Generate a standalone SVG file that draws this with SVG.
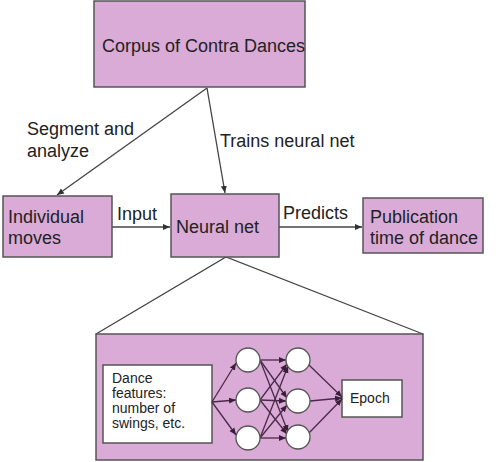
<svg xmlns="http://www.w3.org/2000/svg" width="500" height="462" viewBox="0 0 500 462">
<style>
.box{fill:#d9abd6;stroke:#555;stroke-width:1.5}
.wbox{fill:#fff;stroke:#555;stroke-width:1.5}
.t{font-family:"Liberation Sans",Arial,sans-serif;font-size:18px;fill:#222}
.s{font-family:"Liberation Sans",Arial,sans-serif;font-size:14px;fill:#222}
.e{stroke:#444;stroke-width:1.3;fill:none}
.a{marker-end:url(#ah)}
.n{stroke:#4a2a48;stroke-width:1.3;fill:none;marker-end:url(#ah2)}
.c{fill:#fff;stroke:#555;stroke-width:1.3}
</style>
<defs>
<marker id="ah" markerWidth="8" markerHeight="8" refX="7" refY="4" orient="auto" markerUnits="userSpaceOnUse"><path d="M0,1 L7,4 L0,7 Z" fill="#333"/></marker>
<marker id="ah2" markerWidth="8" markerHeight="8" refX="7" refY="4" orient="auto" markerUnits="userSpaceOnUse"><path d="M0,1 L7,4 L0,7 Z" fill="#3a1f38"/></marker>
</defs>
<g id="connectors">
<line class="e a" x1="207" y1="88" x2="57" y2="195"/>
<line class="e a" x1="207" y1="88" x2="225" y2="193"/>
<line class="e a" x1="112" y1="227" x2="170" y2="227"/>
<line class="e a" x1="279" y1="227" x2="362" y2="227"/>
<polyline class="e" points="96,334 226,257 423,334"/>
<text class="t" x="27" y="135">Segment and</text>
<text class="t" x="27" y="157">analyze</text>
<text class="t" x="220" y="147">Trains neural net</text>
<text class="t" x="117" y="220">Input</text>
<text class="t" x="283" y="219">Predicts</text>
</g>
<g id="corpus"><rect class="box" x="94" y="1" width="211" height="86"/><text class="t" x="102" y="52">Corpus of Contra Dances</text></g>
<g id="moves"><rect class="box" x="3" y="196" width="109" height="61"/><text class="t" x="8" y="223">Individual</text><text class="t" x="8" y="244">moves</text></g>
<g id="neuralnet"><rect class="box" x="171" y="194" width="108" height="63"/><text class="t" x="176" y="233">Neural net</text></g>
<g id="publication"><rect class="box" x="363" y="198" width="120" height="55"/><text class="t" x="370" y="223">Publication</text><text class="t" x="370" y="244">time of dance</text></g>
<g id="detail">
<rect class="box" x="96" y="334" width="327" height="126"/>
<g id="features"><rect class="wbox" x="103" y="365" width="109" height="78"/>
<text class="s" x="112" y="383">Dance</text><text class="s" x="112" y="398">features:</text><text class="s" x="112" y="413">number of</text><text class="s" x="112" y="428">swings, etc.</text></g>
<g id="epoch"><rect class="wbox" x="342" y="380" width="60" height="37"/><text class="s" x="350" y="403">Epoch</text></g>
<g id="net-edges">
<line class="n" x1="212" y1="402" x2="236" y2="363"/>
<line class="n" x1="212" y1="402" x2="236" y2="400"/>
<line class="n" x1="212" y1="402" x2="236" y2="435"/>
<line class="n" x1="260" y1="360" x2="286" y2="360"/>
<line class="n" x1="260" y1="360" x2="287" y2="398"/>
<line class="n" x1="260" y1="360" x2="288" y2="432"/>
<line class="n" x1="260" y1="400" x2="287" y2="364"/>
<line class="n" x1="260" y1="400" x2="286" y2="401"/>
<line class="n" x1="260" y1="400" x2="287" y2="434"/>
<line class="n" x1="260" y1="438" x2="288" y2="366"/>
<line class="n" x1="260" y1="438" x2="287" y2="405"/>
<line class="n" x1="260" y1="438" x2="286" y2="438"/>
<line class="n" x1="309" y1="365" x2="342" y2="397"/>
<line class="n" x1="310" y1="401" x2="342" y2="398"/>
<line class="n" x1="309" y1="433" x2="342" y2="399"/>
</g>
<g id="layer1"><circle class="c" cx="248" cy="360" r="12"/><circle class="c" cx="248" cy="400" r="12"/><circle class="c" cx="248" cy="438" r="12"/></g>
<g id="layer2"><circle class="c" cx="298" cy="360" r="12"/><circle class="c" cx="298" cy="401" r="12"/><circle class="c" cx="298" cy="437" r="12"/></g>
</g>
</svg>
